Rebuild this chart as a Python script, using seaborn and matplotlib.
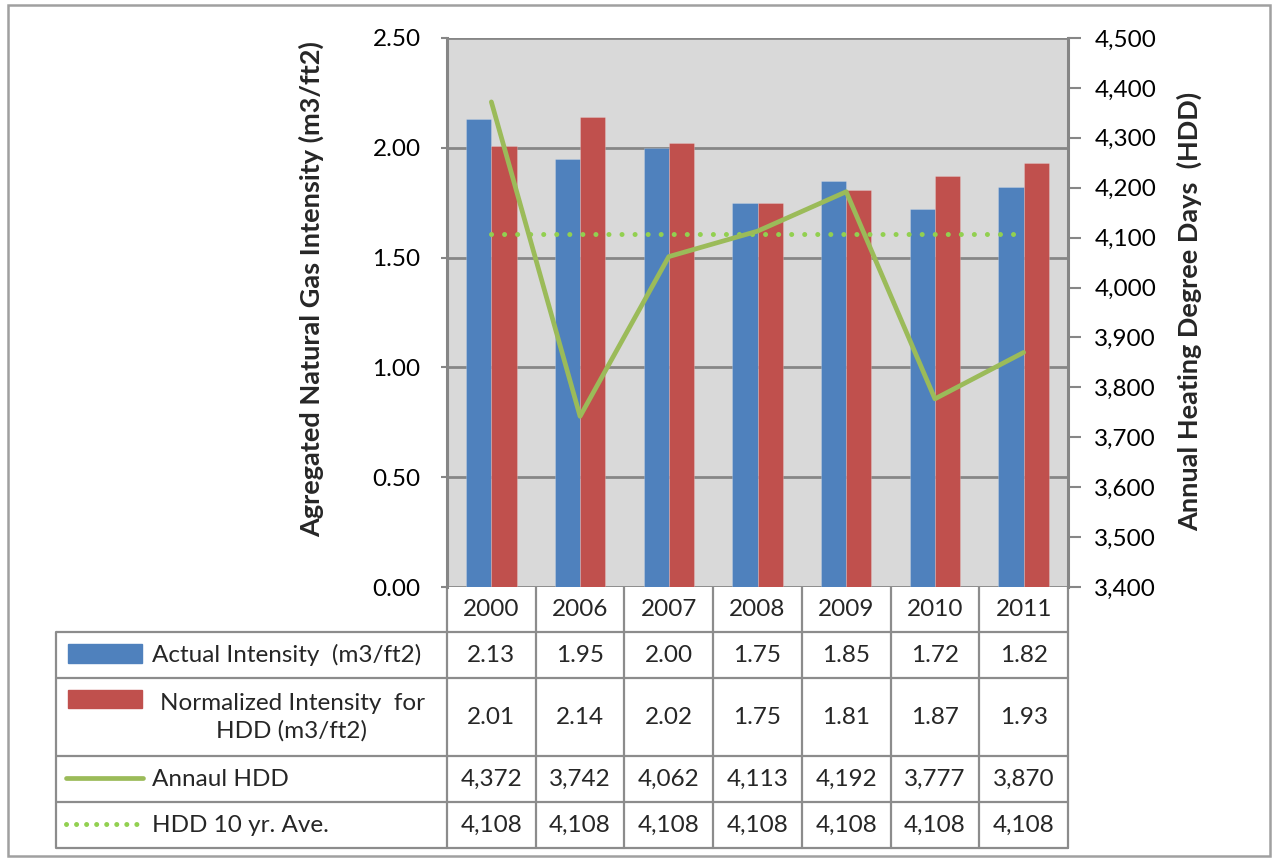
import numpy as np
import pandas as pd
import matplotlib
matplotlib.use("Agg")
import matplotlib.pyplot as plt
from matplotlib import font_manager
from matplotlib.transforms import blended_transform_factory
from matplotlib.patches import Rectangle
from matplotlib.lines import Line2D
import seaborn as sns

# ---- data -------------------------------------------------------------
years = ["2000", "2006", "2007", "2008", "2009", "2010", "2011"]
actual_intensity = [2.13, 1.95, 2.00, 1.75, 1.85, 1.72, 1.82]
normalized_intensity = [2.01, 2.14, 2.02, 1.75, 1.81, 1.87, 1.93]
annual_hdd = [4372, 3742, 4062, 4113, 4192, 3777, 3870]
hdd_10yr_avg = [4108, 4108, 4108, 4108, 4108, 4108, 4108]

series_names = ["Actual Intensity  (m3/ft2)", "Normalized Intensity  for\nHDD (m3/ft2)",
                "Annaul HDD", "HDD 10 yr. Ave."]
left_label = "Agregated Natural Gas Intensity (m3/ft2)"
right_label = "Annual Heating Degree Days  (HDD)"

BLUE = "#4F81BD"
RED = "#C0504D"
GREEN = "#9BBB59"
LIGHT_GREEN = "#92D050"
PLOT_BG = "#D9D9D9"
GRID = "#868686"
FRAME = "#8C8C8C"

sns.set_theme(style="white")
plt.rcParams["font.family"] = ["Lato", "DejaVu Sans"]
FS = 17.5
LABEL_FS = 19.5


def pick_bold_family(candidates):
    """Return the first family whose bold face really resolves to a bold file."""
    for fam in candidates:
        try:
            path = font_manager.findfont(
                font_manager.FontProperties(family=fam, weight="bold"),
                fallback_to_default=False)
        except Exception:
            continue
        name = path.lower()
        if "bold" in name and fam.split()[0].lower() in name.replace("-", " ").replace("_", " "):
            return fam
    return "DejaVu Sans"


BOLD_FAMILY = pick_bold_family(["Lato", "Open Sans", "Noto Sans", "Roboto",
                                "Liberation Sans", "DejaVu Sans"])

W, H = 1275, 861
fig = plt.figure(figsize=(W / 100, H / 100), dpi=100)


def fx(px):
    return px / W


def fy(py):
    return 1 - py / H


# main plotting area
ax_l, ax_r, ax_t, ax_b = 447, 1068, 38, 587
ax = fig.add_axes([fx(ax_l), fy(ax_b), fx(ax_r - ax_l), (ax_b - ax_t) / H])
ax.set_facecolor(PLOT_BG)

df = pd.DataFrame({
    "year": years * 2,
    "value": actual_intensity + normalized_intensity,
    "series": ["actual"] * len(years) + ["normalized"] * len(years),
})
sns.barplot(data=df, x="year", y="value", hue="series", order=years,
            palette=[BLUE, RED], width=0.57, gap=0, ax=ax, legend=False,
            edgecolor="#ffffff", linewidth=0.4, saturation=1, errorbar=None)
for p in ax.patches:
    p.set_edgecolor((1, 1, 1, 0.35))

ax.set_ylim(0, 2.5)
ax.set_yticks(np.arange(0, 2.51, 0.5))
ax.set_yticklabels([f"{v:.2f}" for v in np.arange(0, 2.51, 0.5)], fontsize=FS)
ax.set_xlim(-0.5, len(years) - 0.5)
ax.set_xticks(np.arange(len(years)))
ax.set_xticklabels([])
ax.set_xlabel("")
ax.set_ylabel("")
ax.yaxis.grid(True, color=GRID, linewidth=2.0)
ax.set_axisbelow(True)
ax.tick_params(axis="x", length=0)
ax.tick_params(axis="y", length=4, width=1.5, color=GRID, pad=15, labelcolor="black")
for s in ["top", "right"]:
    ax.spines[s].set_visible(False)
ax.spines["left"].set_color(GRID)
ax.spines["left"].set_linewidth(2.2)
ax.spines["bottom"].set_visible(False)

# secondary axis for heating degree days
ax2 = ax.twinx()
x_pos = np.arange(len(years))
sns.lineplot(x=x_pos, y=annual_hdd, ax=ax2, color=GREEN, linewidth=3.4,
             solid_capstyle="round", solid_joinstyle="round", zorder=5)
sns.lineplot(x=x_pos, y=hdd_10yr_avg, ax=ax2, color=LIGHT_GREEN, linewidth=3.6,
             dashes=False, zorder=4)
dot_line = ax2.lines[-1]
dot_line.set_linestyle((0, (0.01, 2.6)))
dot_line.set_dash_capstyle("round")
ax2.set_ylim(3400, 4500)
ax2.set_yticks(np.arange(3400, 4501, 100))
ax2.set_yticklabels([f"{v:,}" for v in range(3400, 4501, 100)], fontsize=FS)
ax2.tick_params(axis="y", length=9, width=1.5, color=GRID, pad=10, labelcolor="black")
ax2.set_ylabel("")
for s in ["top", "left", "bottom"]:
    ax2.spines[s].set_visible(False)
ax2.spines["right"].set_color(GRID)
ax2.spines["right"].set_linewidth(2.2)
ax2.set_xlim(-0.5, len(years) - 0.5)

# axis titles
fig.text(fx(311), fy(289), left_label, rotation=90, ha="center", va="center",
         fontsize=LABEL_FS, fontweight="bold", family=BOLD_FAMILY)
fig.text(fx(1189), fy(311), right_label, rotation=90, ha="center", va="center",
         fontsize=LABEL_FS, fontweight="bold", family=BOLD_FAMILY)

# ---- data table under the chart ---------------------------------------
tax = fig.add_axes([0, 0, 1, 1], zorder=-1)
tax.set_xlim(0, W)
tax.set_ylim(H, 0)
tax.axis("off")
col_tr = blended_transform_factory(ax.transData, tax.transData)

row_edges = [587, 632, 678, 756, 802, 848]
legend_left = 56
n = len(years)
lw_tab = 1.6

# horizontal rules
for i, y in enumerate(row_edges[1:]):
    tax.plot([legend_left, ax_l], [y, y], color=FRAME, lw=lw_tab, solid_capstyle="butt")
    tax.add_line(Line2D([-0.5, n - 0.5], [y, y], transform=col_tr,
                        color=FRAME, lw=lw_tab))
# vertical rules
for k in range(n + 1):
    tax.add_line(Line2D([k - 0.5, k - 0.5], [row_edges[0], row_edges[-1]],
                        transform=col_tr, color=FRAME, lw=lw_tab))
tax.plot([legend_left, legend_left], [row_edges[1], row_edges[-1]], color=FRAME,
         lw=lw_tab)

# header and value cells
rows = [
    [f"{v:.2f}" for v in actual_intensity],
    [f"{v:.2f}" for v in normalized_intensity],
    [f"{v:,}" for v in annual_hdd],
    [f"{v:,}" for v in hdd_10yr_avg],
]
for k, yr in enumerate(years):
    yc = (row_edges[0] + row_edges[1]) / 2
    tax.text(k, yc, yr, transform=col_tr, ha="center", va="center", fontsize=FS)
    for r, vals in enumerate(rows):
        yc = (row_edges[r + 1] + row_edges[r + 2]) / 2
        tax.text(k, yc, vals[k], transform=col_tr, ha="center", va="center",
                 fontsize=FS)

# legend column
key_x0, key_x1 = 68, 142
text_x = 152
r1 = (row_edges[1] + row_edges[2]) / 2
r2 = (row_edges[2] + row_edges[3]) / 2
r3 = (row_edges[3] + row_edges[4]) / 2
r4 = (row_edges[4] + row_edges[5]) / 2
tax.add_patch(Rectangle((key_x0, 644), key_x1 - key_x0, 19, color=BLUE))
tax.add_patch(Rectangle((key_x0, 690), key_x1 - key_x0, 18, color=RED))
tax.plot([66, 143], [778, 778], color=GREEN, lw=3.4, solid_capstyle="round")
tax.plot([66, 138], [824, 824], color=LIGHT_GREEN, lw=3.6,
         linestyle=(0, (0.01, 2.0)), dash_capstyle="round")
tax.text(text_x, r1, series_names[0], ha="left", va="center", fontsize=FS)
tax.text(292, r2, series_names[1], ha="center", va="center", fontsize=FS,
         multialignment="center", linespacing=1.35)
tax.text(text_x, r3, series_names[2], ha="left", va="center", fontsize=FS)
tax.text(text_x, r4, series_names[3], ha="left", va="center", fontsize=FS)

# outer chart frame
tax.add_patch(Rectangle((8, 5), 1262, 851, fill=False, edgecolor="#A0A0A0", lw=1.8))

fig.savefig("out.png", dpi=100, facecolor="white")
